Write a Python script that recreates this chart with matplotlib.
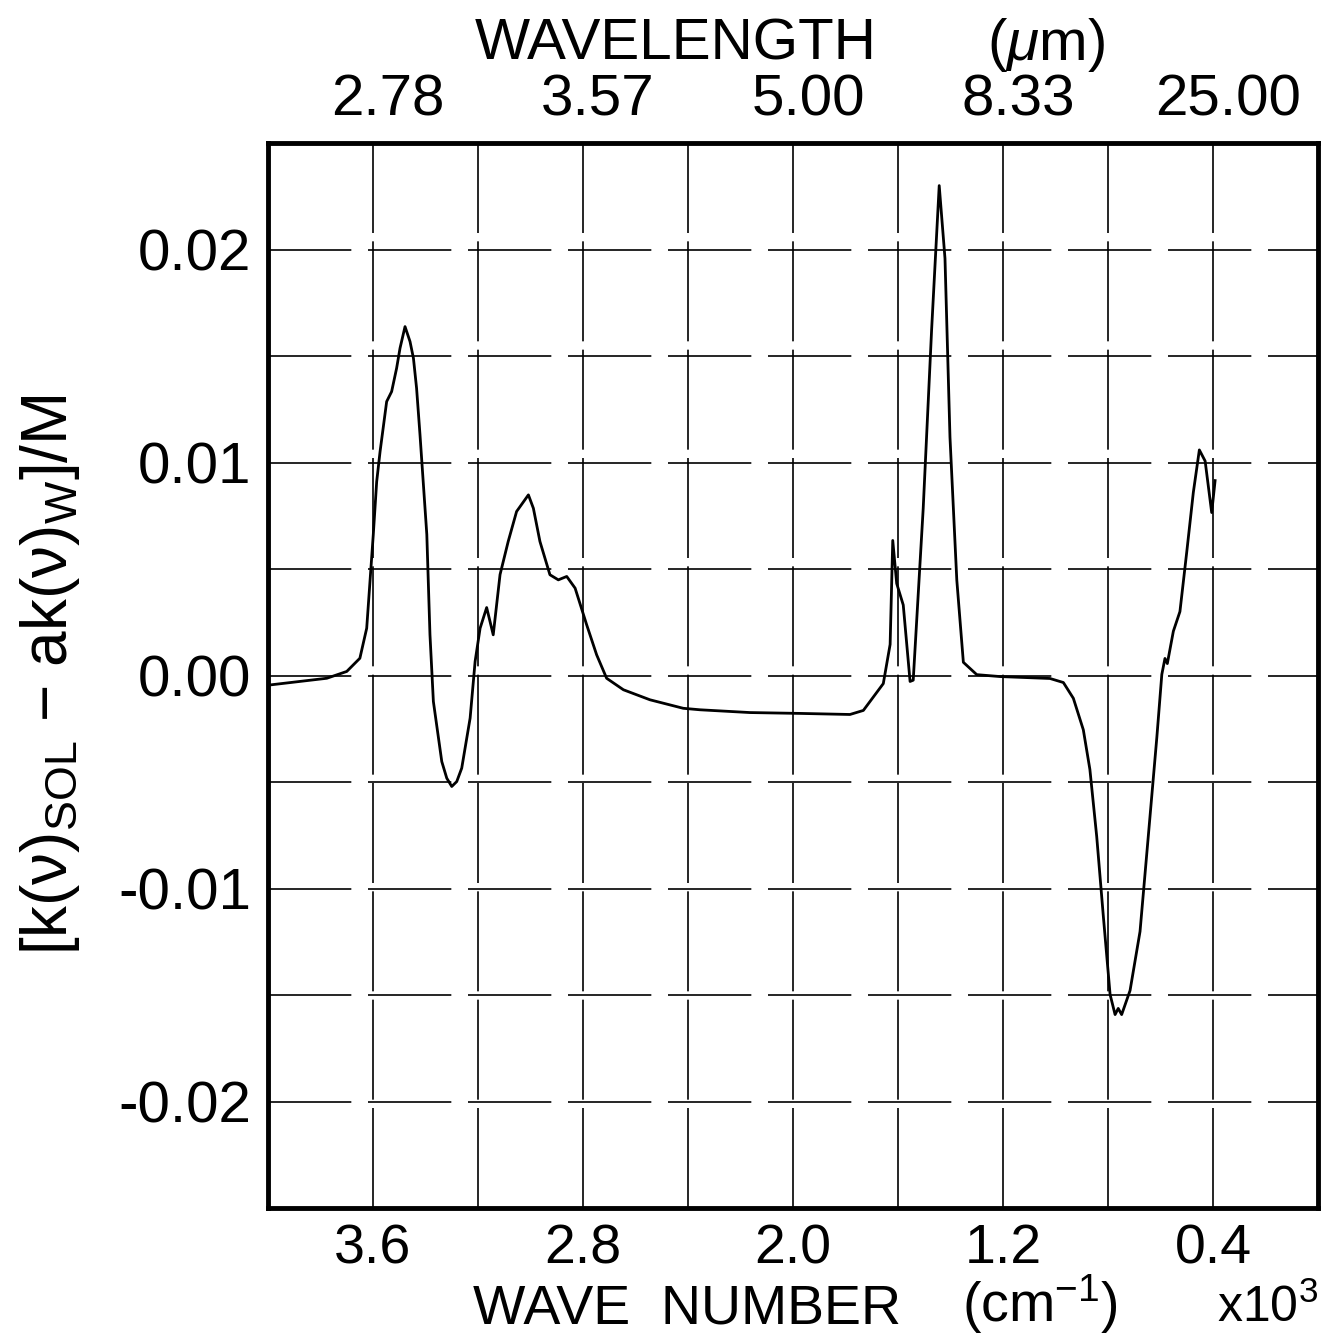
# -*- coding: utf-8 -*-
import matplotlib
matplotlib.use('Agg')
import matplotlib.pyplot as plt
from matplotlib.transforms import ScaledTranslation

# wave number in units of 10^3 cm^-1
wavenumber = [3.99, 3.776, 3.700, 3.650, 3.624, 3.599, 3.586, 3.573, 3.548, 3.529,
              3.510, 3.497, 3.478, 3.459, 3.446, 3.434, 3.421, 3.395, 3.383, 3.370,
              3.338, 3.319, 3.300, 3.281, 3.262, 3.230, 3.211,
              3.192, 3.167, 3.142, 3.116, 3.085, 3.053, 3.008, 2.989, 2.964, 2.926,
              2.894, 2.862, 2.830, 2.786, 2.748, 2.710, 2.646, 2.545, 2.418, 2.354,
              2.164, 1.973, 1.783, 1.732, 1.656, 1.630, 1.620, 1.605, 1.580, 1.554,
              1.542, 1.504, 1.472, 1.443, 1.421, 1.402, 1.376, 1.351, 1.300, 1.211,
              1.021, 0.970, 0.932, 0.894, 0.869, 0.843, 0.818, 0.792, 0.773, 0.761,
              0.748, 0.716, 0.678, 0.640, 0.614, 0.595, 0.583, 0.574, 0.551, 0.526,
              0.500, 0.475, 0.452, 0.430, 0.405, 0.392]
k_diff = [-0.00044, -0.00013, 0.00019, 0.00081, 0.00222, 0.0066, 0.0091, 0.01052, 0.01286, 0.01333,
          0.01443, 0.01537, 0.01638, 0.01568, 0.0149, 0.01349, 0.01131, 0.00662, 0.00192, -0.00122,
          -0.00404, -0.00482, -0.00521, -0.00498, -0.00435, -0.0020, 0.00066,
          0.00222, 0.00319, 0.00191, 0.00474, 0.00629, 0.0077, 0.00848, 0.00785, 0.00629, 0.00473,
          0.00449, 0.00465, 0.0041, 0.00238, 0.00097, -0.00013, -0.00067, -0.00114, -0.00154, -0.00161,
          -0.00174, -0.00178, -0.00183, -0.00164, -0.00038, 0.00146, 0.00634, 0.00432, 0.00331, -0.00028,
          -0.00022, 0.00784, 0.01622, 0.0230, 0.01958, 0.01119, 0.00448, 0.00062, 0.00004, -0.00005,
          -0.00014, -0.00033, -0.00107, -0.00255, -0.00441, -0.00756, -0.01127, -0.01498, -0.01592, -0.01563,
          -0.01592, -0.01479, -0.01202, -0.00662, -0.00291, 0.00005, 0.0008, 0.00056, 0.00208, 0.003,
          0.0058, 0.00859, 0.01059, 0.01007, 0.00765, 0.00915]

x_ticks = [3.6, 2.8, 2.0, 1.2, 0.4]
x_labels = ['3.6', '2.8', '2.0', '1.2', '0.4']
x_minor = [3.2, 2.4, 1.6, 0.8]
y_ticks = [0.02, 0.01, 0.0, -0.01, -0.02]
y_labels = ['0.02', '0.01', '0.00', '-0.01', '-0.02']
y_minor = [0.015, 0.005, -0.005, -0.015]

plt.rcParams['font.family'] = ['Liberation Sans', 'DejaVu Sans']
plt.rcParams['mathtext.fontset'] = 'custom'
plt.rcParams['mathtext.rm'] = 'Liberation Sans'
plt.rcParams['mathtext.it'] = 'Liberation Sans:italic'

W, H = 1323, 1340
fig = plt.figure(figsize=(W / 100, H / 100), dpi=100)
ax = fig.add_axes([268 / W, 1 - 1208 / H, (1318 - 268) / W, (1208 - 143) / H])

ax.plot(wavenumber, k_diff, color='black', lw=2.0, solid_joinstyle='round')
ax.set_xlim(4.0, 0.0)
ax.set_ylim(-0.025, 0.025)

ax.set_xticks(x_ticks)
ax.set_xticklabels(x_labels)
ax.set_xticks(x_minor, minor=True)
ax.set_yticks(y_ticks)
ax.set_yticklabels(y_labels)
ax.set_yticks(y_minor, minor=True)
ax.tick_params(which='both', length=0)
ax.tick_params(axis='x', pad=11, labelsize=40)
ax.tick_params(axis='y', pad=12, labelsize=42)

ax.grid(True, which='both', axis='x', color='black', lw=1.2, linestyle=(0, (60, 5)))
ax.grid(True, which='both', axis='y', color='black', lw=1.2, linestyle=(0, (50, 10)))
for s in ax.spines.values():
    s.set_linewidth(3.5)

# wavelength scale on top
ax2 = ax.twiny()
ax2.set_xlim(ax.get_xlim())
ax2.set_xticks(x_ticks)
ax2.set_xticklabels([f'{10 / v:.2f}' for v in x_ticks])
ax2.tick_params(length=0, pad=11, labelsize=42)
for s in ax2.spines.values():
    s.set_visible(False)
shift = ScaledTranslation(15 / 100, 0, fig.dpi_scale_trans)
for lbl in ax2.get_xticklabels():
    lbl.set_transform(lbl.get_transform() + shift)

fig.text(676 / W, 1 - 60 / H, 'WAVELENGTH', ha='center', va='baseline', fontsize=42)
fig.text(1046 / W, 1 - 60 / H, r'($\mu$m)', ha='center', va='baseline', fontsize=42)
fig.text(687 / W, 1 - 1324 / H, 'WAVE  NUMBER', ha='center', va='baseline', fontsize=40)
fig.text(1040 / W, 1 - 1322 / H, r'(cm$^{-1}$)', ha='center', va='baseline', fontsize=40)
fig.text(1318 / W, 1 - 1322 / H, r'x10$^3$', ha='right', va='baseline', fontsize=36)
fig.text(50 / W, 1 - 675 / H, r'[k(ν)$_{\mathrm{SOL}}$ $-$ ak(ν)$_{\mathrm{W}}$]/M',
         rotation=90, ha='center', va='center', fontsize=46)

fig.savefig('out.png', dpi=100)
